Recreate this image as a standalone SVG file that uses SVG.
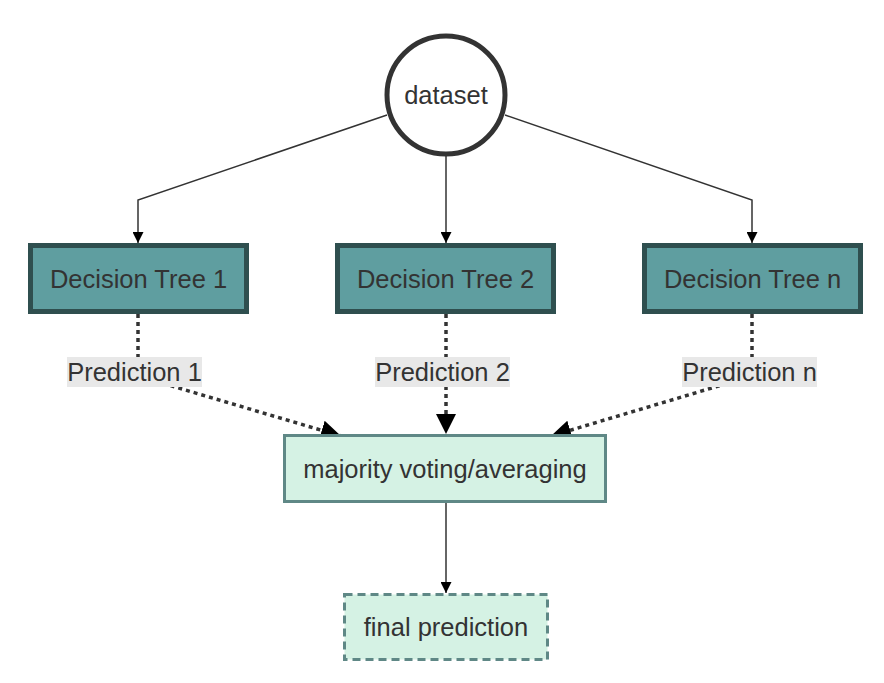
<svg xmlns="http://www.w3.org/2000/svg" width="884" height="683" viewBox="0 0 884 683">
<style>
text{font-family:"Liberation Sans",Arial,sans-serif;font-size:25.5px;fill:#333;text-anchor:middle;dominant-baseline:central}
.solid{fill:none;stroke:#333;stroke-width:1.5}
.dot{fill:none;stroke:#333;stroke-width:3.5;stroke-dasharray:4 4}
.tree{fill:#5F9EA0;stroke:#2F4F4F;stroke-width:5}
.lbl{fill:#e8e8e8}
.agg{fill:#d5f2e4;stroke:#5f8886;stroke-width:3}
.fin{fill:#d5f2e4;stroke:#5f8886;stroke-width:3;stroke-dasharray:8 5}
</style>
<defs>
<marker id="a" markerUnits="userSpaceOnUse" markerWidth="11" markerHeight="11" refX="11" refY="5.5" orient="auto"><path d="M0,0 L11,5.5 L0,11 z" fill="#000"/></marker>
<marker id="b" markerUnits="userSpaceOnUse" markerWidth="20" markerHeight="20" refX="20" refY="10" orient="auto"><path d="M0,0 L20,10 L0,20 z" fill="#000"/></marker>
</defs>
<g id="connectors">
<path class="solid" d="M387,115 L138,200 L138,243" marker-end="url(#a)"/>
<path class="solid" d="M446,156 L446,243" marker-end="url(#a)"/>
<path class="solid" d="M505,115 L752,200 L752,243" marker-end="url(#a)"/>
<path class="dot" d="M138,314 L138,376 L341,436" marker-end="url(#b)"/>
<path class="dot" d="M446,314 L446,434" marker-end="url(#b)"/>
<path class="dot" d="M752,314 L752,376 L551,436" marker-end="url(#b)"/>
<path class="solid" d="M446,503 L446,593" marker-end="url(#a)"/>
<g id="label1"><rect class="lbl" x="67" y="357" width="135" height="30"/><text x="134.5" y="372">Prediction 1</text></g>
<g id="label2"><rect class="lbl" x="375" y="357" width="135" height="30"/><text x="442.5" y="372">Prediction 2</text></g>
<g id="labeln"><rect class="lbl" x="682" y="357" width="135" height="30"/><text x="749.5" y="372">Prediction n</text></g>
</g>
<g id="dataset"><circle cx="446" cy="95" r="59" fill="#fff" stroke="#333" stroke-width="5"/><text x="446" y="95">dataset</text></g>
<g id="tree1"><rect class="tree" x="30.5" y="245.5" width="216" height="66"/><text x="138.5" y="278.5">Decision Tree 1</text></g>
<g id="tree2"><rect class="tree" x="337.5" y="245.5" width="216" height="66"/><text x="445.5" y="278.5">Decision Tree 2</text></g>
<g id="treen"><rect class="tree" x="644.5" y="245.5" width="216" height="66"/><text x="752.5" y="278.5">Decision Tree n</text></g>
<g id="aggregate"><rect class="agg" x="284.5" y="435.5" width="321" height="66"/><text x="445" y="468.5">majority voting/averaging</text></g>
<g id="final"><rect class="fin" x="344.5" y="594.5" width="203" height="65"/><text x="446" y="627">final prediction</text></g>
</svg>
